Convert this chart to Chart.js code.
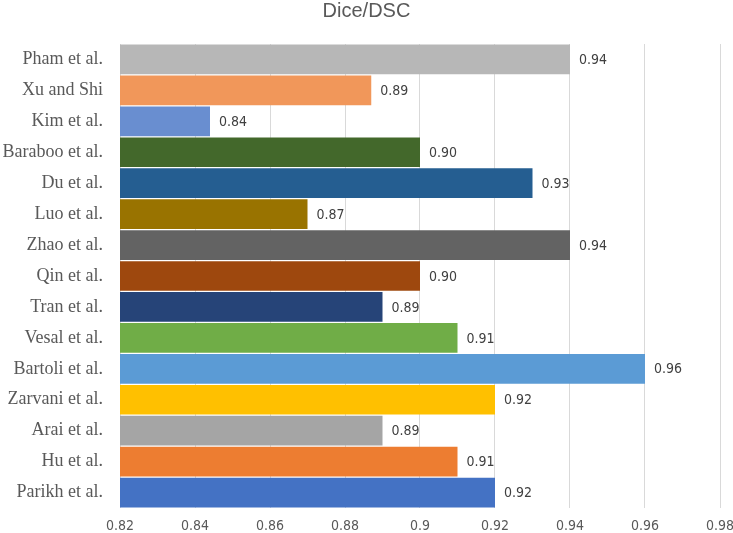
<!DOCTYPE html>
<html>
<head>
<meta charset="utf-8">
<title>Dice/DSC</title>
<script src="https://cdn.jsdelivr.net/npm/chart.js@4/dist/chart.umd.min.js"></script>
<style>
  html, body { margin: 0; padding: 0; background: #ffffff; }
  #wrap { width: 733px; height: 533px; position: relative; }
</style>
</head>
<body>
<div id="wrap"><canvas id="diceChart"></canvas></div>
<script>
const methods = [
  "Pham et al.", "Xu and Shi", "Kim et al.", "Baraboo et al.", "Du et al.",
  "Luo et al.", "Zhao et al.", "Qin et al.", "Tran et al.", "Vesal et al.",
  "Bartoli et al.", "Zarvani et al.", "Arai et al.", "Hu et al.", "Parikh et al."
];
const diceValues = [
  0.94, 0.887, 0.844, 0.90, 0.93,
  0.87, 0.94, 0.90, 0.89, 0.91,
  0.96, 0.92, 0.89, 0.91, 0.92
];
const barColors = [
  "#b7b7b7", "#f1975a", "#698ed0", "#43682b", "#255e91",
  "#997300", "#636363", "#9e480e", "#264478", "#70ad47",
  "#5b9bd5", "#ffc000", "#a5a5a5", "#ed7d31", "#4472c4"
];
const xMin = 0.82;
const xMax = 0.98;
const xStep = 0.02;

const LABEL_FONT = "'Liberation Sans Narrow', 'DejaVu Sans Condensed', 'Liberation Sans', sans-serif";

// draws the value just right of each bar end
const valueLabels = {
  id: "valueLabels",
  afterDatasetsDraw(chart) {
    const ctx = chart.ctx;
    const meta = chart.getDatasetMeta(0);
    ctx.save();
    ctx.font = "14px " + LABEL_FONT;
    ctx.fillStyle = "#404040";
    ctx.textAlign = "left";
    ctx.textBaseline = "middle";
    meta.data.forEach((bar, i) => {
      ctx.fillText(diceValues[i].toFixed(2), bar.x + 9, bar.y + 1);
    });
    ctx.restore();
  }
};

function renderChart() {
  const ctx = document.getElementById("diceChart");
  return new Chart(ctx, {
    type: "bar",
    data: {
      labels: methods,
      datasets: [{
        data: diceValues,
        backgroundColor: barColors,
        borderWidth: 0,
        barPercentage: 0.96,
        categoryPercentage: 1.0
      }]
    },
    options: {
      indexAxis: "y",
      responsive: true,
      maintainAspectRatio: false,
      animation: false,
      layout: { padding: 0 },
      plugins: {
        legend: { display: false },
        tooltip: { enabled: false },
        title: {
          display: true,
          text: "Dice/DSC",
          color: "#595959",
          font: { family: "'Liberation Sans', 'Open Sans', sans-serif", size: 20, weight: "normal", lineHeight: 1.0 },
          padding: { top: 1, bottom: 23 }
        }
      },
      scales: {
        x: {
          min: xMin,
          max: xMax,
          grid: { color: "#d9d9d9", lineWidth: 1, drawTicks: false },
          border: { display: false },
          afterFit(scale) {
            scale.height = 25;
            scale.paddingRight = 13;
          },
          ticks: {
            stepSize: xStep,
            padding: 11,
            color: "#595959",
            font: { family: LABEL_FONT, size: 14, lineHeight: 1.0 },
            callback: v => String(parseFloat(Number(v).toFixed(2)))
          }
        },
        y: {
          grid: { display: false, drawTicks: false },
          border: { display: false },
          afterFit(scale) {
            scale.width = 120;
            scale.paddingTop = 0;
            scale.paddingBottom = 0;
          },
          ticks: {
            padding: 17,
            color: "#595959",
            font: { family: "'Liberation Serif', 'Times New Roman', serif", size: 18 }
          }
        }
      }
    },
    plugins: [valueLabels]
  });
}

renderChart();
</script>
</body>
</html>
